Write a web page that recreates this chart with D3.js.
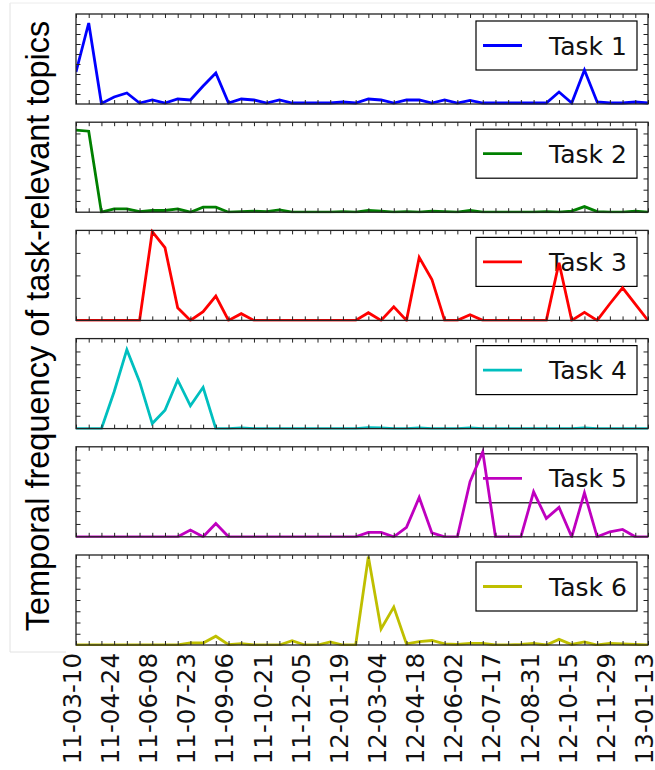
<!DOCTYPE html>
<html><head><meta charset="utf-8">
<script src="https://cdn.jsdelivr.net/npm/d3@7"></script>
<style>body{margin:0;background:#fff}svg{display:block}</style>
</head><body>
<script>
const seriesNames = ["Task 1","Task 2","Task 3","Task 4","Task 5","Task 6"];
const seriesColors = ["#0000ff","#008000","#ff0000","#00bfbf","#bf00bf","#bfbf00"];
const startDate = "2011-03-10";
const stepDays = 15;
const tickLabels = ["11-03-10","11-04-24","11-06-08","11-07-23","11-09-06","11-10-21","11-12-05","12-01-19","12-03-04","12-04-18","12-06-02","12-07-17","12-08-31","12-10-15","12-11-29","13-01-13"];
const task1 = [3.2,8.1,0.05,0.7,1.1,0.1,0.4,0.1,0.5,0.4,1.8,3.1,0.1,0.5,0.4,0.1,0.4,0.1,0.1,0.1,0.1,0.2,0.1,0.5,0.4,0.1,0.4,0.4,0.1,0.4,0.1,0.35,0.1,0.1,0.1,0.1,0.1,0.1,1.2,0.1,3.4,0.2,0.1,0.1,0.2,0.1];
const task2 = [7.3,7.2,0,0.3,0.3,0.05,0.15,0.15,0.3,0,0.45,0.45,0,0.05,0.1,0.05,0.2,0,0,0,0,0.05,0,0.15,0.1,0,0.05,0,0.1,0.05,0,0.15,0,0,0,0,0,0.05,0,0.1,0.5,0.05,0,0,0.1,0];
const task3 = [0,0,0,0,0,0,3.94,3.23,0.56,0,0.39,1.08,0,0.3,0,0,0,0,0,0,0,0,0,0.34,0,0.6,0,2.8,1.82,0,0,0.25,0,0,0,0,0,0,2.56,0,0.36,0,0.74,1.45,0.72,0];
const task4 = [0,0,0,2.87,6.14,3.65,0.39,1.43,3.78,1.77,3.21,0,0,0.05,0,0,0,0,0,0,0,0,0,0.08,0.05,0,0,0.05,0,0,0,0.05,0,0,0,0,0,0,0,0,0.05,0,0,0,0,0];
const task5 = [0,0,0,0,0,0,0,0,0,0.52,0,1.04,0,0,0,0,0,0,0,0,0,0,0,0.34,0.34,0,0.73,3.06,0.3,0,0,4.28,6.61,0,0,0,3.5,1.43,2.29,0,3.42,0,0.39,0.57,0,0];
const task6 = [0,0,0,0,0,0,0,0,0,0.18,0.18,0.78,0.03,0.12,0,0,0,0.39,0,0,0.27,0,0,7.85,1.43,3.37,0.1,0.3,0.4,0.1,0.05,0.15,0.15,0,0,0.05,0.15,0,0.5,0.05,0.27,0,0.15,0.1,0.05,0];
const yMaxes = [9,8,4,7,7,8];
const yLabel = "Temporal frequency of task-relevant topics";

const series = [task1,task2,task3,task4,task5,task6];
const W = 655, H = 770;
const svg = d3.select("body").append("svg").attr("width",W).attr("height",H);

// faint frame around the y-label area
svg.append("path").attr("d","M10,3V652H66").attr("fill","none").attr("stroke","#e2e2e2").attr("stroke-width",1);
svg.append("line").attr("x1",10).attr("x2",655).attr("y1",3).attr("y2",3).attr("stroke","#ececec").attr("stroke-width",1);

const parse = d3.timeParse("%Y-%m-%d");
const t0 = parse(startDate);
const dates = task1.map((_,i)=>d3.timeDay.offset(t0, stepDays*i));
const x = d3.scaleTime().domain([dates[0], dates[dates.length-1]]).range([76,648]);
const parseTick = d3.timeParse("%y-%m-%d");

const top0 = 14, pitch = 108.2, ph = 90;

series.forEach((vals,k)=>{
  const top = top0 + k*pitch, bot = top + ph;
  const y = d3.scaleLinear().domain([0,yMaxes[k]]).range([bot,top]);
  const g = svg.append("g");
  // legend (transparent)
  const lg = g.append("g").attr("transform",`translate(476,${top+7})`);
  lg.append("rect").attr("width",161).attr("height",49).attr("fill","none").attr("stroke","#000").attr("stroke-width",1.2);
  lg.append("line").attr("x1",7).attr("x2",46).attr("y1",24.5).attr("y2",24.5).attr("stroke",seriesColors[k]).attr("stroke-width",2.8);
  lg.append("text").attr("x",73).attr("y",33.5).attr("font-family","DejaVu Sans").attr("font-size",25).attr("fill","#111").text(seriesNames[k]);
  // line
  const clipId = "clip"+k;
  svg.append("clipPath").attr("id",clipId).append("rect").attr("x",76).attr("y",top-2).attr("width",572).attr("height",ph+3);
  g.append("path").datum(vals).attr("clip-path",`url(#${clipId})`)
    .attr("d", d3.line().x((d,i)=>x(dates[i])).y(d=>y(d)))
    .attr("fill","none").attr("stroke",seriesColors[k]).attr("stroke-width",2.8).attr("stroke-linejoin","miter");
  // x ticks inward top & bottom
  const axB = d3.axisBottom(x).tickValues(dates).tickSizeInner(-4).tickSizeOuter(0).tickFormat("");
  const axT = d3.axisTop(x).tickValues(dates).tickSizeInner(-4).tickSizeOuter(0).tickFormat("");
  const yt = d3.range(1, yMaxes[k]);
  const axL = d3.axisLeft(y).tickValues(yt).tickSizeInner(-4.5).tickSizeOuter(0).tickFormat("");
  const axR = d3.axisRight(y).tickValues(yt).tickSizeInner(-4.5).tickSizeOuter(0).tickFormat("");
  [[axB,`translate(0,${bot})`],[axT,`translate(0,${top})`],[axL,`translate(76,0)`],[axR,`translate(648,0)`]].forEach(([a,tr])=>{
    const ga = g.append("g").attr("transform",tr).call(a);
    ga.select(".domain").remove();
    ga.selectAll("line").attr("stroke","#222").attr("stroke-width",1);
  });
  g.append("rect").attr("x",76).attr("y",top).attr("width",572).attr("height",ph)
    .attr("fill","none").attr("stroke","#222").attr("stroke-width",1.3);
  if (k === series.length-1) {
    tickLabels.forEach(lbl=>{
      const xp = x(parseTick(lbl));
      svg.append("text").attr("transform",`translate(${xp},${bot+8}) rotate(-90)`)
        .attr("text-anchor","end").attr("dy","0.2em")
        .attr("font-family","DejaVu Sans").attr("font-size",24.5).attr("fill","#111").text(lbl);
    });
  }
});

svg.append("text").attr("transform","translate(49,326) rotate(-90)")
  .attr("text-anchor","middle").attr("font-family","Liberation Sans, Arial").attr("font-size",32.5)
  .attr("fill","#000").text(yLabel);
</script>
</body></html>
